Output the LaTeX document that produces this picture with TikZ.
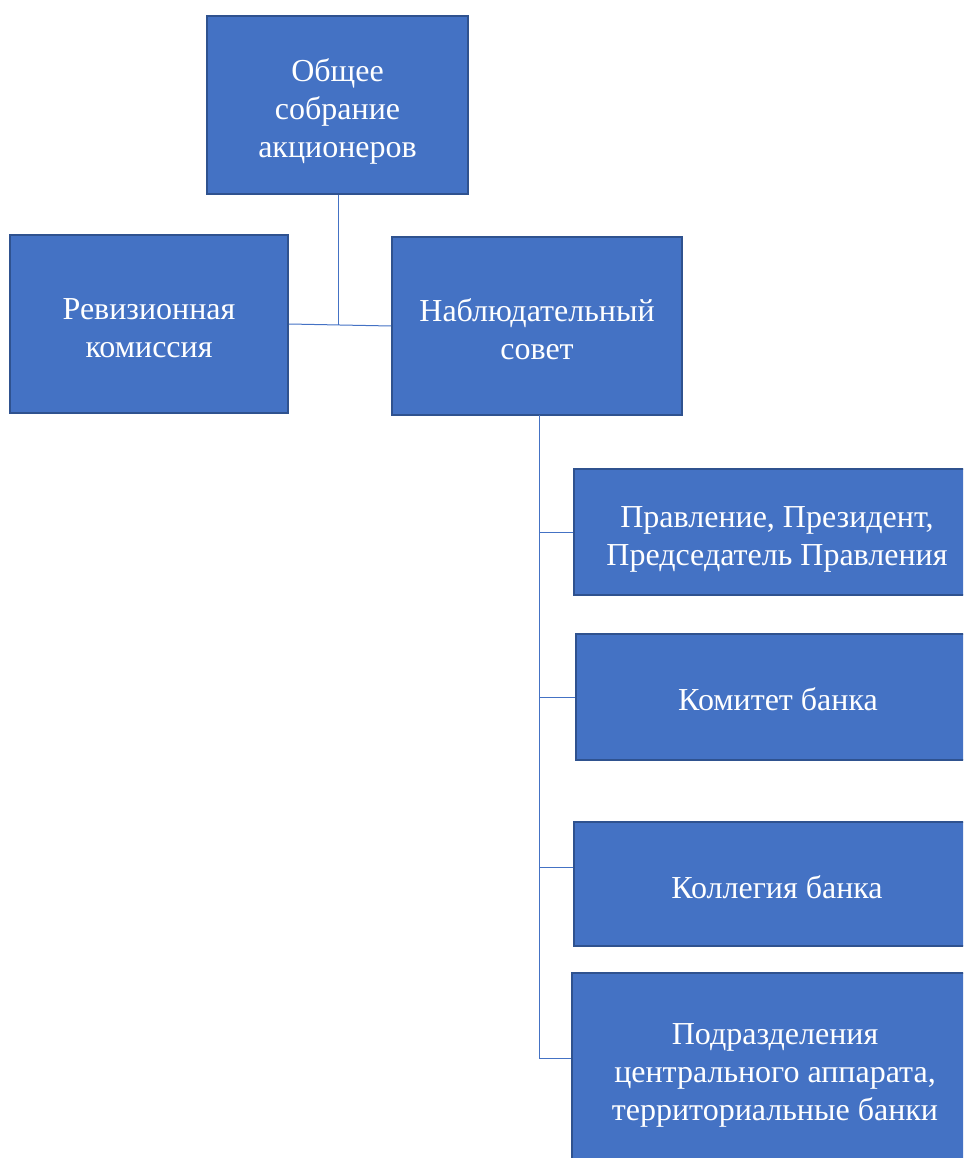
\documentclass[tikz,border=0pt]{standalone}
\usepackage{fontspec}
\setmainfont{Liberation Serif}
\definecolor{boxfill}{HTML}{4472C4}
\definecolor{boxline}{HTML}{2F528F}
\definecolor{connline}{HTML}{4472C4}
\newcommand{\topstrut}[1]{\rule{0pt}{#1}}
\begin{document}
\begin{tikzpicture}[x=1pt,y=-1pt,
  orgbox/.style={rectangle, fill=boxfill, draw=boxline, line width=1.6pt, text=white,
    align=center, inner sep=0pt,
    font=\fontsize{32}{38}\selectfont},
  conn/.style={draw=connline, line width=1pt}]
\useasboundingbox (0,0) rectangle (963,1158);
\clip (0,0) rectangle (963,1158);
\node[orgbox, minimum width=261pt, minimum height=178pt] (gm) at (337.5,105) {\topstrut{36pt}Общее\\собрание\\акционеров};
\node[orgbox, minimum width=278pt, minimum height=178pt] (rev) at (149,324) {\topstrut{29pt}Ревизионная\\комиссия};
\node[orgbox, minimum width=290pt, minimum height=178pt] (sup) at (537,326) {\topstrut{29pt}Наблюдательный\\совет};
\node[orgbox, minimum width=406pt, minimum height=126pt] (board) at (777,532) {\topstrut{36pt}Правление, Президент,\\Председатель Правления};
\node[orgbox, minimum width=404pt, minimum height=126pt] (comm) at (778,697) {\topstrut{28pt}Комитет банка};
\node[orgbox, minimum width=406pt, minimum height=124pt] (coll) at (777,884) {\topstrut{30pt}Коллегия банка};
\node[orgbox, minimum width=406pt, minimum height=196pt] (div) at (775,1071) {\topstrut{29pt}Подразделения\\центрального аппарата,\\территориальные банки};
\coordinate (junc) at (338,325);
\coordinate (trunk) at (539,415);
\draw[conn] (gm.south -| junc) -- (junc);
\draw[conn] (rev.east) -- (sup.west);
\draw[conn] (trunk) |- ([yshift=13pt]div.west);
\draw[conn] (board.west) -- (board.west -| trunk);
\draw[conn] (comm.west) -- (comm.west -| trunk);
\draw[conn] ([yshift=17pt]coll.west) -- ([yshift=17pt]coll.west -| trunk);
\end{tikzpicture}
\end{document}
